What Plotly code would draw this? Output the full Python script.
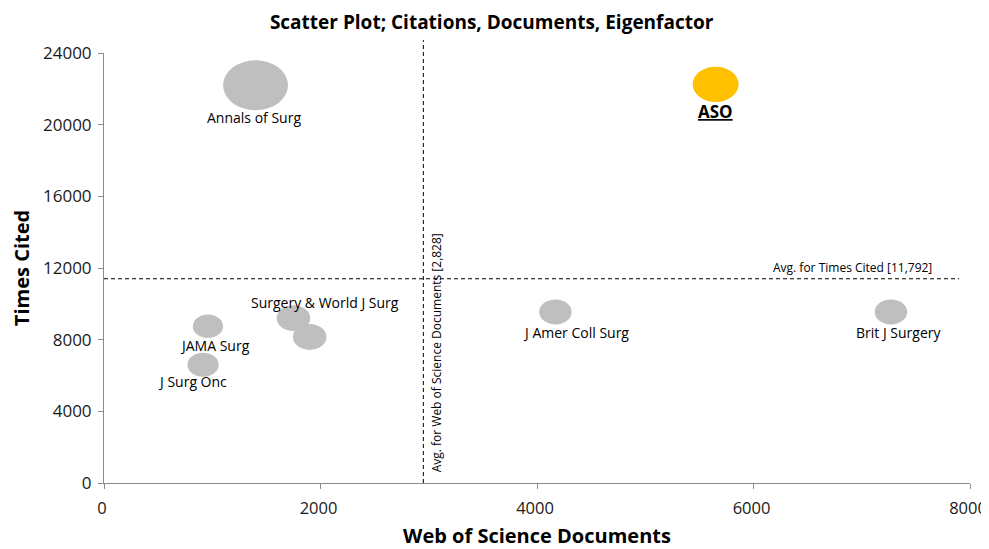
import math
import plotly.graph_objects as go

# ---- data ----
journals = ["Annals of Surg", "ASO", "Surgery", "World J Surg", "JAMA Surg",
            "J Surg Onc", "J Amer Coll Surg", "Brit J Surgery"]
wos_documents = [1400, 5650, 1750, 1900, 960, 915, 4170, 7270]
times_cited = [22200, 22250, 9200, 8150, 8750, 6600, 9550, 9550]
eigenfactor = [0.060, 0.030, 0.016, 0.016, 0.013, 0.014, 0.015, 0.015]

avg_docs_line = 2950
avg_cited_line = 11400
avg_docs_label = "Avg. for Web of Science Documents [2,828]"
avg_cited_label = "Avg. for Times Cited [11,792]"

x_ticks = [0, 2000, 4000, 6000, 8000]
y_ticks = [0, 4000, 8000, 12000, 16000, 20000, 24000]

# label text per bubble (None = no label)
labels = ["Annals of Surg", "<u><b>ASO</b></u>", "Surgery & World J Surg", None,
          "JAMA Surg", "J Surg Onc", "J Amer Coll Surg", "Brit J Surgery"]
# ---- styling ----
colors = ["#BFBFBF", "#FFC000", "#BFBFBF", "#BFBFBF", "#BFBFBF", "#BFBFBF", "#BFBFBF", "#BFBFBF"]
label_shift = [(-2, -32), (0, -27), (32, 16), (0, 0), (7, -19), (-11, -17), (21, -21), (8, -21)]
label_size = [14, 17, 14, 14, 14, 14, 14, 14]
MAX_DIAM = 57      # px diameter (area-equivalent) of the largest bubble
STRETCH = 1.14     # bubbles drawn as horizontally stretched ellipses

FONT = "Open Sans"

fig = go.Figure()
# invisible hover layer at the data points
fig.add_trace(go.Scatter(
    x=wos_documents, y=times_cited, mode="markers",
    marker=dict(size=20, color=colors, opacity=0),
    text=journals, hoverinfo="text", showlegend=False, cliponaxis=False,
))

shapes = []
ef_max = max(eigenfactor)
for xv, yv, ef, col in zip(wos_documents, times_cited, eigenfactor, colors):
    d = MAX_DIAM * math.sqrt(ef / ef_max)
    rx, ry = d * STRETCH / 2, d / STRETCH / 2
    shapes.append(dict(type="circle", xref="x", yref="y",
                       xsizemode="pixel", ysizemode="pixel", xanchor=xv, yanchor=yv,
                       x0=-rx, x1=rx, y0=-ry, y1=ry,
                       fillcolor=col, line=dict(width=0), layer="above"))

shapes += [
    dict(type="line", xref="x", yref="paper", x0=avg_docs_line, x1=avg_docs_line, y0=0, y1=1.03,
         line=dict(color="#000", width=1, dash="4px,3px")),
    dict(type="line", xref="x", yref="y", x0=0, x1=7900, y0=avg_cited_line, y1=avg_cited_line,
         line=dict(color="#000", width=1, dash="4px,3px")),
]

annotations = []
for xv, yv, lab, (dx, dy), fs in zip(wos_documents, times_cited, labels, label_shift, label_size):
    if lab is None:
        continue
    annotations.append(dict(x=xv, y=yv, xref="x", yref="y", text=lab, showarrow=False,
                            xshift=dx, yshift=dy, xanchor="center", yanchor="middle",
                            font=dict(family=FONT, size=fs, color="#000")))

annotations.append(dict(x=avg_docs_line, y=0, xref="x", yref="y", text=avg_docs_label,
                        textangle=-90, showarrow=False, xanchor="left", yanchor="bottom",
                        xshift=3, yshift=9, font=dict(family=FONT, size=12, color="#000")))
annotations.append(dict(x=7900, y=avg_cited_line, xref="x", yref="y", text=avg_cited_label,
                        showarrow=False, xanchor="right", yanchor="bottom", yshift=1, xshift=-25,
                        font=dict(family=FONT, size=12, color="#000")))

axis_common = dict(showgrid=False, zeroline=False, showline=True, linecolor="#8C8C8C",
                   linewidth=1, ticks="outside", ticklen=5, tickcolor="#8C8C8C",
                   automargin=False, ticklabeloverflow="allow")

fig.update_layout(
    width=989, height=541,
    margin=dict(l=96, r=27, t=45, b=66),
    paper_bgcolor="white", plot_bgcolor="white",
    title=dict(text="<b>Scatter Plot; Citations, Documents, Eigenfactor</b>",
               x=0.489, xref="container", xanchor="center", y=0.974, yref="container",
               yanchor="middle", pad=dict(t=0, b=0),
               font=dict(family=FONT, size=19, color="#000")),
    xaxis=dict(range=[0, 8000], tickvals=x_ticks, ticktext=[str(v) for v in x_ticks],
               ticklabelstandoff=5, ticklabelshift=-2,
               tickfont=dict(family=FONT, size=16.5, color="#1a1a1a"),
               title=dict(text="<b>Web of Science Documents</b>", standoff=14,
                          font=dict(family=FONT, size=20, color="#000")),
               **axis_common),
    yaxis=dict(range=[0, 24000], tickvals=y_ticks, ticktext=[str(v) for v in y_ticks],
               ticklabelstandoff=3,
               tickfont=dict(family=FONT, size=17, color="#1a1a1a"),
               title=dict(text="<b>Times Cited</b>", standoff=8,
                          font=dict(family=FONT, size=20, color="#000")),
               **axis_common),
    annotations=annotations,
    shapes=shapes,
)

fig.write_html("out.html")
